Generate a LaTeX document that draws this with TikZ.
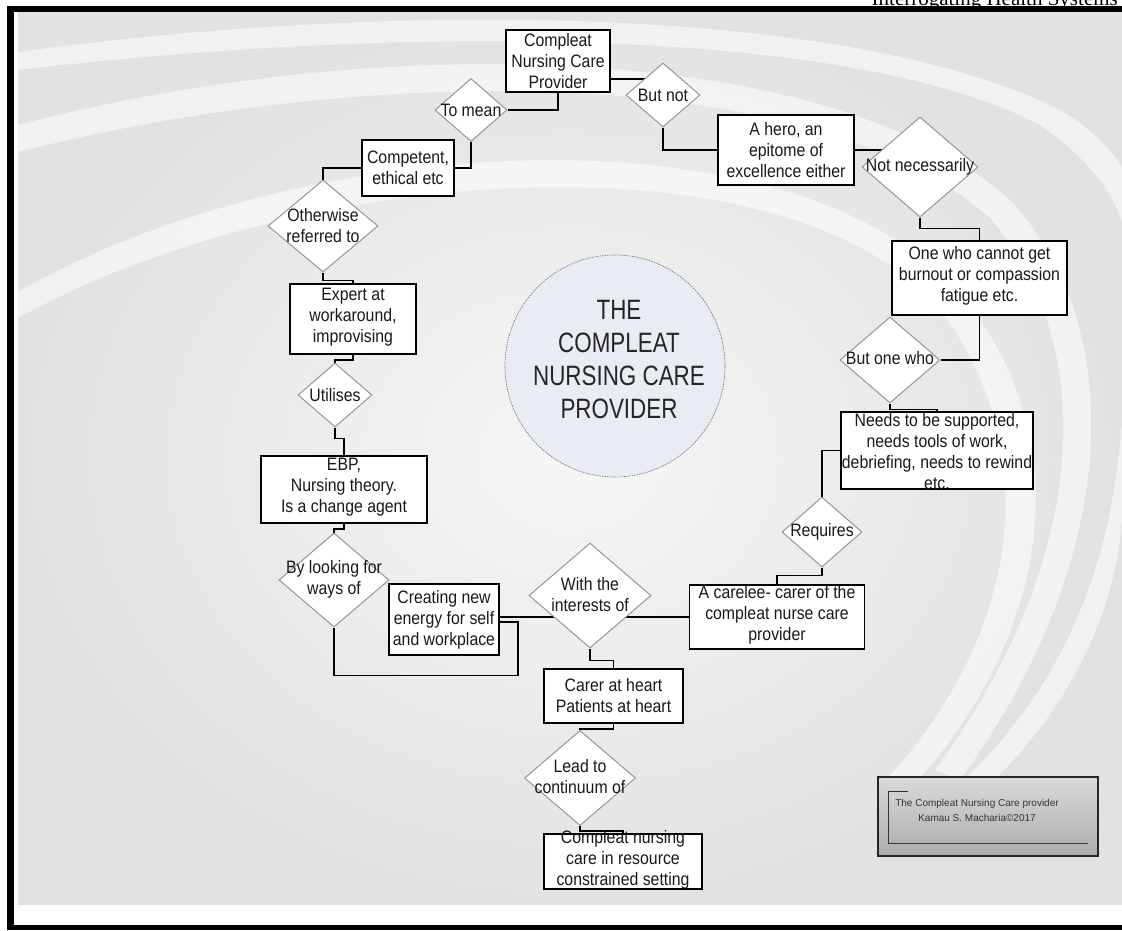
\documentclass[tikz,border=0pt]{standalone}
\usepackage{fontspec}
\setmainfont{Liberation Sans}
\newfontfamily\boxfont{Liberation Sans}[FakeStretch=0.88]
\newfontfamily\titlefont{Liberation Sans}[FakeStretch=0.8]
\newfontfamily\headfont{Liberation Serif}
\usetikzlibrary{shapes.geometric,calc}
\pgfdeclarelayer{bg}
\pgfdeclarelayer{edges}
\pgfsetlayers{bg,edges,main}
\definecolor{paper}{RGB}{226,226,226}
\definecolor{paperlight}{RGB}{246,246,246}
\definecolor{corefill}{RGB}{233,236,243}
\definecolor{diaedge}{RGB}{150,150,150}
\definecolor{credtop}{RGB}{218,218,218}
\definecolor{credbot}{RGB}{172,172,172}
\begin{document}
\begin{tikzpicture}[x=1pt,y=-1pt,
  txt/.style={font=\boxfont\fontsize{18}{21}\selectfont, align=center, inner sep=0pt, text=black!90},
  box/.style={rectangle, draw=black, line width=1.6pt, fill=white, inner sep=0pt},
  dia/.style={diamond, draw=diaedge, line width=1pt, fill=white, inner sep=0pt},
  link/.style={draw=black, line width=1.6pt},
  band/.style={fill=white, opacity=0.55}]
\useasboundingbox (0,0) rectangle (1122,930);

% page frame and backdrop
\begin{pgfonlayer}{bg}
  \fill[white] (0,0) rectangle (1122,930);
  \begin{scope}
    \clip (18,12) rectangle (1122,904);
    \fill[inner color=paperlight, outer color=paper] (18,12) rectangle (1122,904);
    % sweeping light bands
    \fill[band] (18,52) .. controls (400,0) and (850,5) .. (1060,110)
      .. controls (1160,170) and (1160,260) .. (1130,330) -- (1122,300)
      .. controls (1140,240) and (1120,180) .. (1040,125)
      .. controls (850,25) and (400,25) .. (18,70) -- cycle;
    \fill[band] (18,125) .. controls (380,30) and (830,40) .. (1010,200)
      .. controls (1130,330) and (1120,560) .. (960,780) -- (935,770)
      .. controls (1090,560) and (1100,345) .. (990,218)
      .. controls (820,65) and (380,60) .. (18,152) -- cycle;
    \fill[band] (18,292) .. controls (300,130) and (800,100) .. (965,300)
      .. controls (1085,450) and (1045,650) .. (900,800) -- (878,788)
      .. controls (1012,650) and (1052,462) .. (942,312)
      .. controls (790,128) and (300,162) .. (18,318) -- cycle;
    \fill[band] (1122,420) .. controls (1110,600) and (1040,720) .. (930,810)
      -- (960,810) .. controls (1060,730) and (1115,620) .. (1122,520) -- cycle;
  \end{scope}
  \fill[black] (7,6) rectangle (1122,12);
  \fill[black] (7,6) rectangle (14,930);
  \fill[black] (7,925) rectangle (1122,930);
\end{pgfonlayer}

\node[anchor=base east, font=\headfont\fontsize{21}{21}\selectfont, inner sep=0pt] (header) at (1118,5) {Interrogating Health Systems};

% central theme
\node[ellipse, draw=gray, dash pattern=on 1.5pt off 1pt, line width=0.7pt, fill=corefill,
  minimum width=220, minimum height=222,
  label={[font=\titlefont\fontsize{28}{33}\selectfont, align=center, inner sep=0pt, text=black!85, xshift=4pt, yshift=7pt]center:THE\\COMPLEAT\\NURSING CARE\\PROVIDER}]
  (core) at (615,366) {};

% boxes
\node[box, minimum width=104, minimum height=62, label={[txt]center:Compleat\\Nursing Care\\Provider}] (top) at (558,61) {};
\node[box, minimum width=136, minimum height=70, label={[txt]center:A hero, an\\epitome of\\excellence either}] (hero) at (786,150) {};
\node[box, minimum width=175, minimum height=74, label={[txt, yshift=2pt]center:One who cannot get\\burnout  or compassion\\fatigue etc.}] (onewho) at (979.5,278) {};
\node[box, minimum width=192, minimum height=77, label={[txt, yshift=-1pt]center:Needs to be supported,\\needs tools of work,\\debriefing, needs to rewind\\etc.}] (needs) at (937,450.5) {};
\node[box, minimum width=175, minimum height=64, label={[txt, yshift=2pt]center:A carelee- carer of the\\compleat nurse care\\provider}] (carelee) at (777,617) {};
\node[box, minimum width=110, minimum height=71, label={[txt]center:Creating new\\energy for self\\and workplace}] (creat) at (444,619.5) {};
\node[box, minimum width=166, minimum height=67, label={[txt, yshift=2pt]center:EBP,\\Nursing theory.\\Is a change agent}] (ebp) at (344,489.5) {};
\node[box, minimum width=126, minimum height=70, label={[txt, yshift=2pt]center:Expert at\\workaround,\\improvising}] (expert) at (353,319) {};
\node[box, minimum width=92, minimum height=56, label={[txt]center:Competent,\\ethical etc}] (comp) at (408,168) {};
\node[box, minimum width=139, minimum height=54, label={[txt]center:Carer at heart\\Patients at heart}] (carer) at (613.5,696) {};
\node[box, minimum width=158, minimum height=55, label={[txt, yshift=2pt]center:Compleat  nursing\\care in resource\\constrained setting}] (final) at (623,861.5) {};

% decision diamonds
\node[dia, minimum width=72, minimum height=63, label={[txt]center:To mean}] (tomean) at (471,110) {};
\node[dia, minimum width=74, minimum height=64, label={[txt]center:But not}] (butnot) at (663,95) {};
\node[dia, minimum width=116, minimum height=100, label={[txt]center:Not necessarily}] (notnec) at (920,167) {};
\node[dia, minimum width=100, minimum height=86, label={[txt, yshift=2pt]center:But one who}] (butone) at (890,360) {};
\node[dia, minimum width=80, minimum height=70, label={[txt]center:Requires}] (reqs) at (822,532) {};
\node[dia, minimum width=122, minimum height=105, label={[txt, yshift=1pt]center:With the\\interests of}] (withint) at (590,595.5) {};
\node[dia, minimum width=110, minimum height=94, label={[txt, yshift=1pt]center:By looking for\\ways of}] (look) at (334,580) {};
\node[dia, minimum width=74, minimum height=64, label={[txt]center:Utilises}] (util) at (335,395) {};
\node[dia, minimum width=110, minimum height=92, label={[txt]center:Otherwise\\referred to}] (other) at (323,226) {};
\node[dia, minimum width=111, minimum height=95, label={[txt, yshift=1pt]center:Lead to\\continuum of}] (lead) at (580,778) {};

% credit plate
\node[rectangle, draw=black!85, line width=1.6pt, top color=credtop, bottom color=credbot,
  minimum width=220, minimum height=79, inner sep=0pt,
  label={[font=\fontsize{10}{15}\selectfont, align=center, inner sep=0pt, text=black!80, xshift=-11pt, yshift=6pt]center:The Compleat Nursing Care provider\\Kamau S. Macharia\textcopyright2017}]
  (credit) at (988,816.5) {};
\draw[black!80, line width=1.1pt] ($(credit.north west)+(31,15)$) -- ($(credit.north west)+(11,15)$)
  -- ($(credit.south west)+(11,-13)$) -- ($(credit.south east)+(-11,-13)$);

% connectors
\begin{pgfonlayer}{edges}
  \draw[link] (top.south) |- (tomean.east);
  \draw[link] (tomean.south) |- (comp.east);
  \draw[link] (comp.west) -| (other.north);
  \draw[link] (other.south) -- ++(0,8) -| (expert.north);
  \draw[link] (expert.south) -- ++(0,5) -| (util.north);
  \draw[link] (util.south) -- ++(0,11) -| (ebp.north);
  \draw[link] (ebp.south) -- ++(0,5) -| (look.north);
  \draw[link] (look.south) -- ++(0,48) -| ($(creat.east)+(18,2.5)$) -- ($(creat.east)+(0,2.5)$);
  \draw[link] (carelee.west) -- (carelee.west -| creat.east);
  \draw[link] (withint.south) -- ++(0,12) -| (carer.north);
  \draw[link] (carer.south) -- ++(0,5) -| (lead.north);
  \draw[link] (lead.south) -- ++(0,5) -| (final.north);
  \draw[link] (reqs.south) -- ++(0,8) -| (carelee.north);
  \draw[link] (needs.west) -| (reqs.north);
  \draw[link] (butone.south) -- ++(0,6) -| (needs.north);
  \draw[link] (onewho.south) |- (butone.east);
  \draw[link] (notnec.south) -- ++(0,11) -| (onewho.north);
  \draw[link] (hero.east) -- (hero.east -| notnec.center);
  \draw[link] (butnot.south) |- (hero.west);
  \draw[link] ($(top.east)+(0,18)$) -- ($(butnot.center)+(0,-16)$);
\end{pgfonlayer}
\end{tikzpicture}
\end{document}
